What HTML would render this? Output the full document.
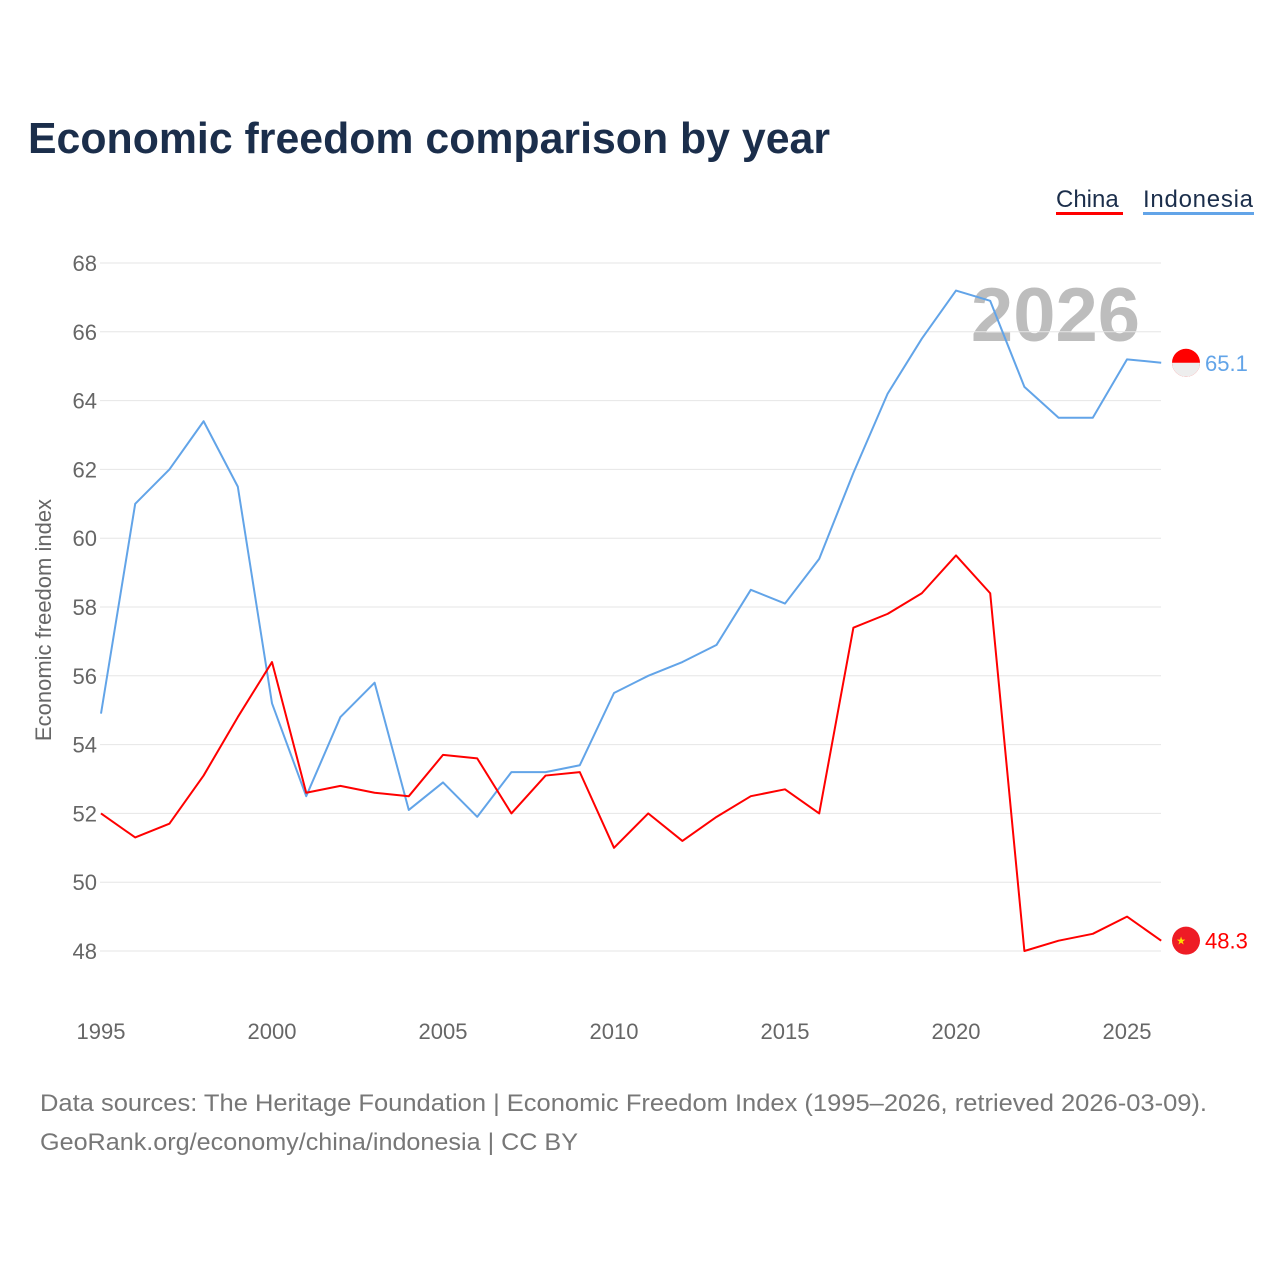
<!DOCTYPE html>
<html><head><meta charset="utf-8"><style>
body{margin:0;background:#fff;font-family:"Liberation Sans",sans-serif}
svg text{font-family:"Liberation Sans",sans-serif}
</style></head><body>
<svg width="1280" height="1280" viewBox="0 0 1280 1280">
<text x="28" y="153" font-size="44" font-weight="bold" fill="#1b2e4b" textLength="802" lengthAdjust="spacingAndGlyphs">Economic freedom comparison by year</text>
<g>
<text x="1056" y="207" font-size="24" fill="#1b2e4b">China</text>
<rect x="1056" y="212" width="67" height="3" fill="#ff0000"/>
<text x="1143" y="207" font-size="24" fill="#1b2e4b" textLength="110">Indonesia</text>
<rect x="1143" y="212" width="111" height="3" fill="#62a4e8"/>
</g>
<text x="1140" y="341" font-size="76" font-weight="bold" fill="#bdbdbd" text-anchor="end">2026</text>
<g id="grid"></g>
<g id="series"></g>
<text transform="translate(51,620) rotate(-90)" font-size="22" fill="#666" text-anchor="middle">Economic freedom index</text>
<text x="40" y="1111" font-size="24" fill="#777" textLength="1167" lengthAdjust="spacingAndGlyphs">Data sources: The Heritage Foundation | Economic Freedom Index (1995–2026, retrieved 2026-03-09).</text>
<text x="40" y="1150" font-size="24" fill="#777" textLength="538" lengthAdjust="spacingAndGlyphs">GeoRank.org/economy/china/indonesia | CC BY</text>
</svg>
<script>
const years=[1995,1996,1997,1998,1999,2000,2001,2002,2003,2004,2005,2006,2007,2008,2009,2010,2011,2012,2013,2014,2015,2016,2017,2018,2019,2020,2021,2022,2023,2024,2025,2026];
const indonesia=[54.9,61.0,62.0,63.4,61.5,55.2,52.5,54.8,55.8,52.1,52.9,51.9,53.2,53.2,53.4,55.5,56.0,56.4,56.9,58.5,58.1,59.4,61.9,64.2,65.8,67.2,66.9,64.4,63.5,63.5,65.2,65.1];
const china=[52.0,51.3,51.7,53.1,54.8,56.4,52.6,52.8,52.6,52.5,53.7,53.6,52.0,53.1,53.2,51.0,52.0,51.2,51.9,52.5,52.7,52.0,57.4,57.8,58.4,59.5,58.4,48.0,48.3,48.5,49.0,48.3];
const yTicks=[48,50,52,54,56,58,60,62,64,66,68];
const xTicks=[1995,2000,2005,2010,2015,2020,2025];
const NS='http://www.w3.org/2000/svg';
const xs=y=>101+(y-1995)*34.2;
const ys=v=>951-(v-48)*34.4;
function mk(tag,attrs,parent,txt){const e=document.createElementNS(NS,tag);for(const k in attrs)e.setAttribute(k,attrs[k]);if(txt!==undefined)e.textContent=txt;parent.appendChild(e);return e;}
const grid=document.getElementById('grid');
yTicks.forEach(t=>{
 const l=mk('line',{x1:100,x2:1161,y1:ys(t),y2:ys(t),stroke:'#e6e6e6','stroke-width':1},grid);
 
 
 const tx=mk('text',{x:97,y:ys(t)+8,'font-size':22,fill:'#666','text-anchor':'end'},grid,t);
 
 
});
xTicks.forEach(t=>{
 const tx=mk('text',{x:xs(t),y:1039,'font-size':22,fill:'#666','text-anchor':'middle'},grid,t);
 
 
});
const ser=document.getElementById('series');
function line(vals,color,name){
 const p=mk('polyline',{points:vals.map((v,i)=>xs(years[i])+','+ys(v)).join(' '),fill:'none',stroke:color,'stroke-width':2,'stroke-linejoin':'round'},ser);
 
 
 const last=vals[vals.length-1];
 const cy=ys(last);
 const c=mk('circle',{cx:1186,cy:cy,r:14,fill:color==='#ff0000'?'#ee1c25':'#ff0000'},ser);
 
 
 if(name==='indonesia'){mk('path',{d:`M1172 ${cy} A14 14 0 0 0 1200 ${cy} Z`,fill:'#eeeeee'},ser);}
 else{mk('text',{x:1181,y:cy+4,'font-size':11,fill:'#ffde00','text-anchor':'middle'},ser,'★');}
 const t=mk('text',{x:1205,y:cy+8,'font-size':22,fill:color},ser,last.toFixed(1));
 
 
}
line(indonesia,'#62a4e8','indonesia');
line(china,'#ff0000','china');
</script>
</body></html>
